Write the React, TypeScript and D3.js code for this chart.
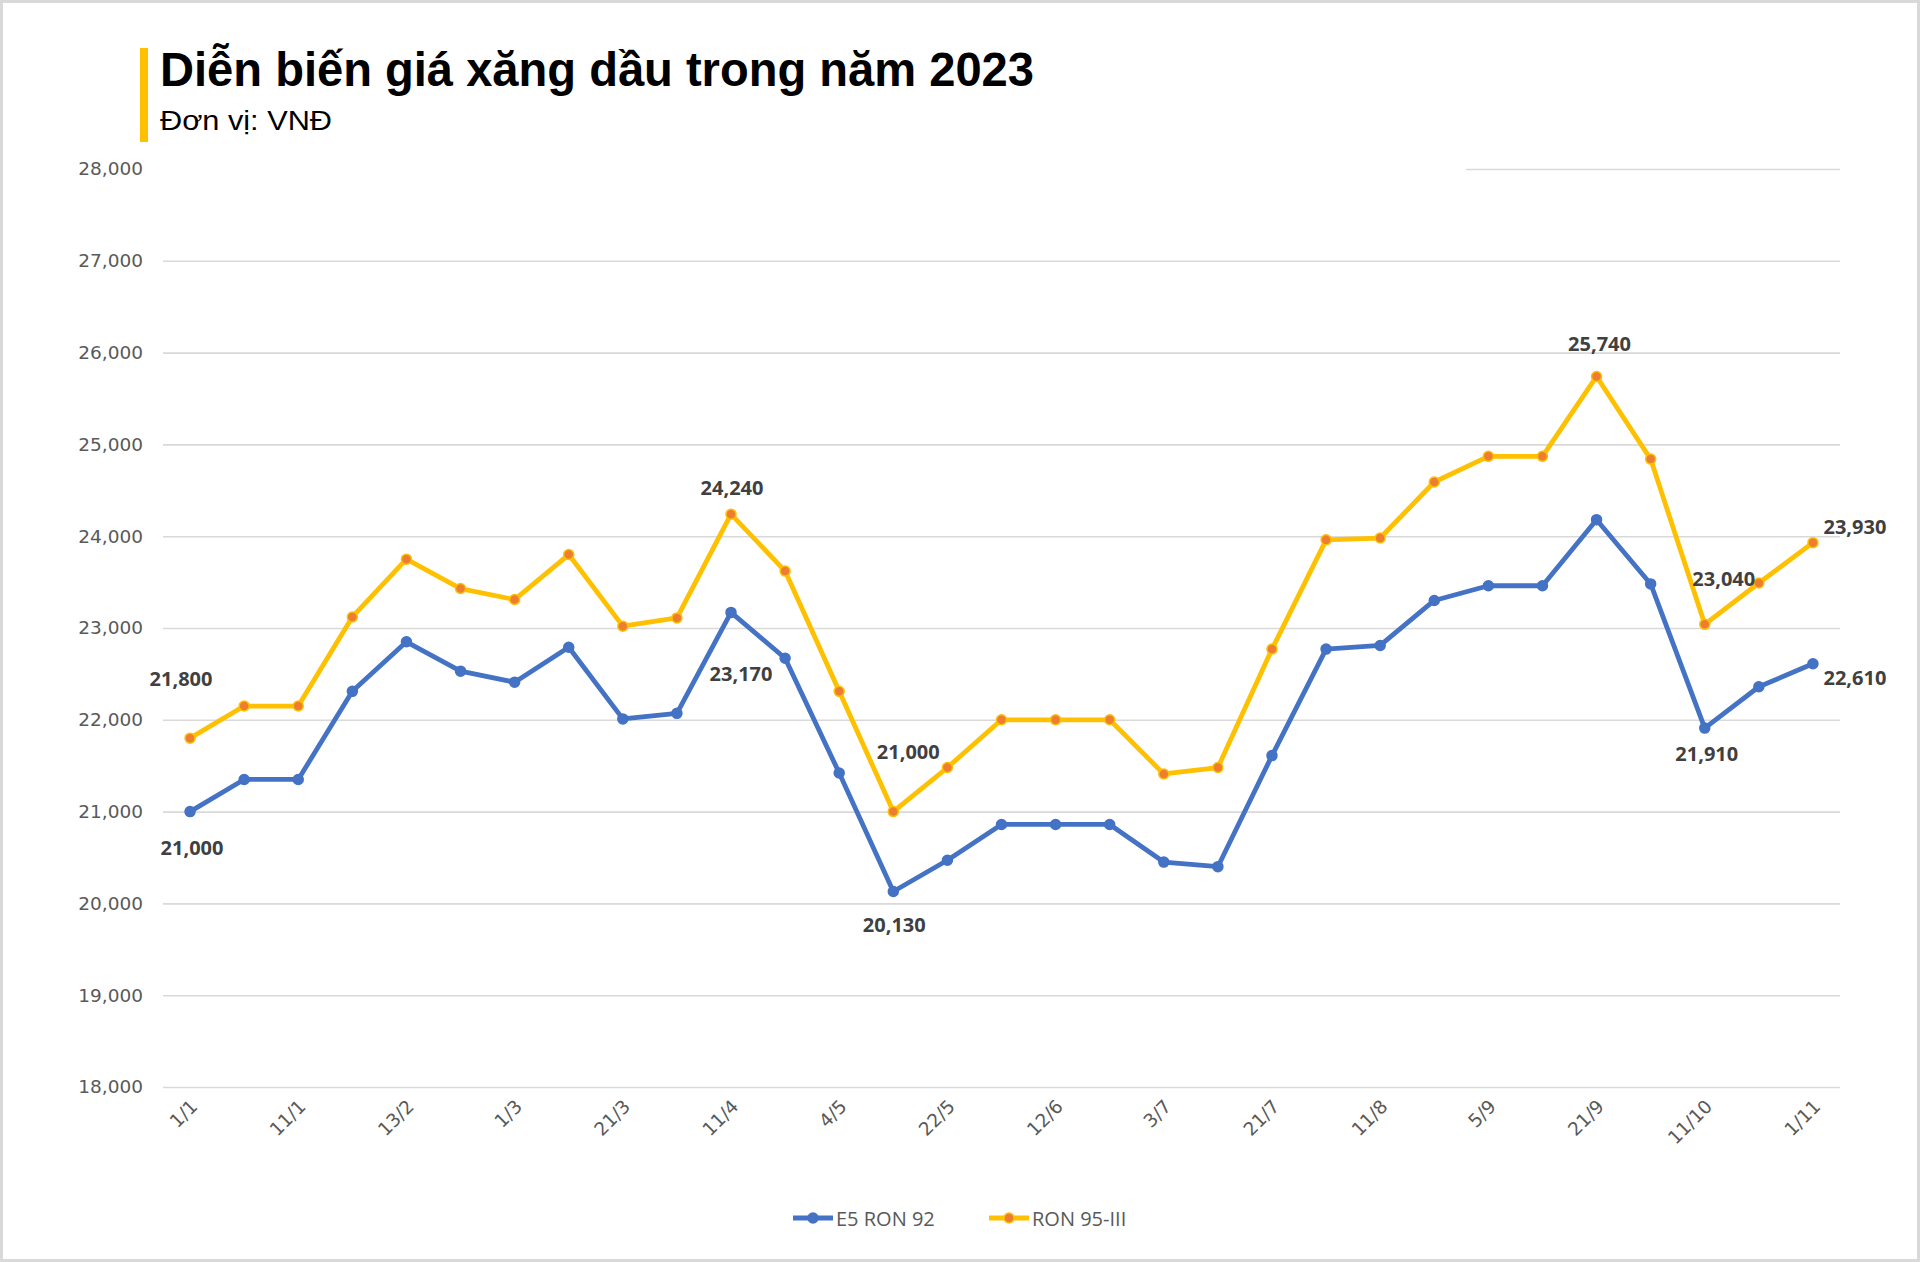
import { useRef, useEffect } from "react";
import * as d3 from "d3";

// --- data (VND / litre)
const tickLabels = ["1/1", "11/1", "13/2", "1/3", "21/3", "11/4", "4/5", "22/5", "12/6", "3/7", "21/7", "11/8", "5/9", "21/9", "11/10", "1/11"];

const e5Ron92 = [
     21000, 21350, 21350, 22310, 22850, 22530, 22410, 22790, 22010, 22070,
     23170, 22670, 21420, 20130, 20470, 20860, 20860, 20860, 20450, 20400,
     21610, 22770, 22810, 23300, 23460, 23460, 24180, 23480, 21910, 22360,
     22610,
];
const ron95 = [
     21800, 22150, 22150, 23120, 23750, 23430, 23310, 23800, 23020, 23110,
     24240, 23620, 22310, 21000, 21480, 22000, 22000, 22000, 21410, 21480,
     22770, 23960, 23980, 24590, 24870, 24870, 25740, 24840, 23040, 23490,
     23930,
];
const yTicks = [18000, 19000, 20000, 21000, 22000, 23000, 24000, 25000, 26000, 27000, 28000];

// indexes that carry a value label
const e5Labeled = [0, 10, 13, 28, 30];
const ron95Labeled = [0, 10, 13, 26, 28, 30];

// label offsets from the point (px)
const labelOffsets: { [key: string]: [number, number] } = {
     "e5-0": [2, 36], "e5-10": [10, 61], "e5-13": [1, 33], "e5-28": [2, 25], "e5-30": [42, 14],
     "r95-0": [-9, -60], "r95-10": [1, -27], "r95-13": [15, -60], "r95-26": [3, -33], "r95-28": [19, -46], "r95-30": [42, -16],
}

const W = 1920
const H = 1262
const plot = { left: 163, right: 1840, top: 169, bottom: 1087 }
const BLUE = "#4472C4"
const YELLOW = "#FFC000"
const ORANGE = "#ED7D31"
const AXIS_FONT = "'DejaVu Sans', sans-serif"
const LABEL_FONT = "'Open Sans', sans-serif"

export default function App() {
     const svgRef = useRef<SVGSVGElement | null>(null)

     useEffect(() => {
          const svg = d3.select(svgRef.current)
          svg.selectAll("*").remove()

          const idx = d3.range(e5Ron92.length)
          const xBand = d3.scaleBand<number>().domain(idx).range([plot.left, plot.right])
          const x = (i: number) => xBand(i)! + xBand.bandwidth() / 2
          const y = d3.scaleLinear().domain([18000, 28000]).range([plot.bottom, plot.top])

          svg.append("rect").attr("width", W).attr("height", H).attr("fill", "#fff")
          svg.append("rect")
               .attr("x", 1.5).attr("y", 1.5).attr("width", W - 3).attr("height", H - 3)
               .attr("fill", "none").attr("stroke", "#d9d9d9").attr("stroke-width", 3)

          // gridlines + y axis
          const yAxis = d3.axisLeft(y)
               .tickValues(yTicks)
               .tickSize(-(plot.right - plot.left))
               .tickPadding(20)
               .tickFormat(d3.format(","))
          const gy = svg.append("g").attr("transform", `translate(${plot.left},0)`).call(yAxis)
          gy.select(".domain").remove()
          gy.selectAll(".tick line").attr("stroke", "#d9d9d9").attr("stroke-width", 1.6)
          gy.selectAll(".tick text")
               .attr("fill", "#595959")
               .attr("font-family", AXIS_FONT)
               .attr("font-size", 18.5)

          // white title box sits over the top gridline
          svg.append("rect").attr("x", 150).attr("y", 20).attr("width", 1316).attr("height", 160).attr("fill", "#fff")
          svg.append("rect").attr("x", 140).attr("y", 48).attr("width", 8).attr("height", 94).attr("fill", YELLOW)
          svg.append("text")
               .attr("x", 160).attr("y", 86)
               .attr("font-family", "'Liberation Sans', Arial, sans-serif")
               .attr("font-weight", "bold")
               .attr("font-size", 48)
               .attr("textLength", 874)
               .attr("lengthAdjust", "spacingAndGlyphs")
               .attr("fill", "#000")
               .text("Diễn biến giá xăng dầu trong năm 2023")
          svg.append("text")
               .attr("x", 160).attr("y", 130)
               .attr("font-family", "'Liberation Sans', Arial, sans-serif")
               .attr("font-size", 27)
               .attr("textLength", 172)
               .attr("lengthAdjust", "spacingAndGlyphs")
               .attr("fill", "#000")
               .text("Đơn vị: VNĐ")

          // x tick labels, every other category
          const gx = svg.append("g")
          gx.selectAll("text").data(tickLabels).join("text")
               .attr("transform", (_d, i) => `translate(${x(i * 2) + 4},${plot.bottom + 16}) rotate(-45)`)
               .attr("text-anchor", "end")
               .attr("dominant-baseline", "central")
               .attr("fill", "#595959")
               .attr("font-family", AXIS_FONT)
               .attr("font-size", 18.5)
               .text(d => d)

          const line = d3.line<number>().x((_d, i) => x(i)).y(d => y(d))

          const drawSeries = (vals: number[], stroke: string, fill: string) => {
               svg.append("path").datum(vals)
                    .attr("fill", "none").attr("stroke", stroke).attr("stroke-width", 4.8)
                    .attr("stroke-linejoin", "round")
                    .attr("d", line)
               svg.append("g").selectAll("circle").data(vals).join("circle")
                    .attr("cx", (_d, i) => x(i)).attr("cy", d => y(d)).attr("r", 5)
                    .attr("fill", fill).attr("stroke", stroke).attr("stroke-width", 1.5)
          }
          drawSeries(e5Ron92, BLUE, BLUE)
          drawSeries(ron95, YELLOW, ORANGE)

          const drawLabels = (vals: number[], which: number[], key: string) => {
               svg.append("g").selectAll("text").data(which).join("text")
                    .attr("x", i => x(i) + labelOffsets[`${key}-${i}`][0])
                    .attr("y", i => y(vals[i]) + labelOffsets[`${key}-${i}`][1])
                    .attr("text-anchor", "middle")
                    .attr("dominant-baseline", "central")
                    .attr("font-family", LABEL_FONT)
                    .attr("font-weight", "bold")
                    .attr("font-size", 20)
                    .attr("fill", "#404040")
                    .text(i => d3.format(",")(vals[i]))
          }
          drawLabels(e5Ron92, e5Labeled, "e5")
          drawLabels(ron95, ron95Labeled, "r95")

          // legend
          const legend = [
               { name: "E5 RON 92", stroke: BLUE, fill: BLUE, x: 793 },
               { name: "RON 95-III", stroke: YELLOW, fill: ORANGE, x: 989 },
          ]
          const lg = svg.append("g").selectAll("g").data(legend).join("g")
               .attr("transform", d => `translate(${d.x},1218)`)
          lg.append("line").attr("x1", 0).attr("x2", 40)
               .attr("stroke", d => d.stroke).attr("stroke-width", 4.8)
          lg.append("circle").attr("cx", 20).attr("r", 5)
               .attr("fill", d => d.fill).attr("stroke", d => d.stroke).attr("stroke-width", 1.5)
          lg.append("text").attr("x", 43)
               .attr("dominant-baseline", "central")
               .attr("font-family", LABEL_FONT)
               .attr("font-size", 20)
               .attr("fill", "#595959")
               .text(d => d.name)
     }, [])

     return (
          <svg
               ref={svgRef}
               width={W}
               height={H}
               style={{ position: "absolute", left: 0, top: 0 }}
          ></svg>
     )
}
